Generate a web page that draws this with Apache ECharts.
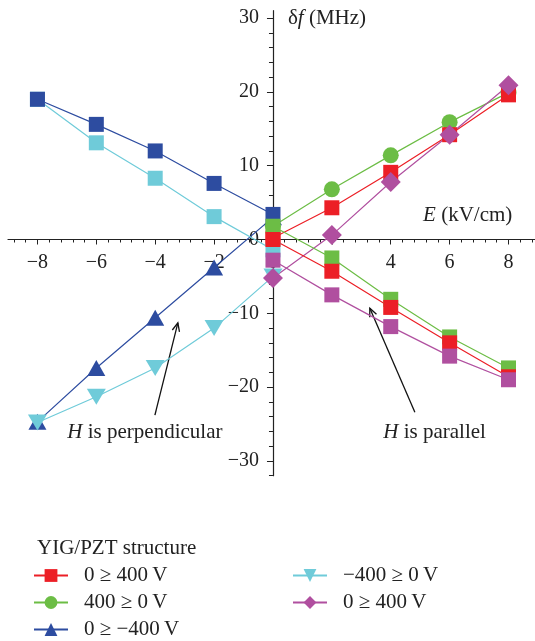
<!DOCTYPE html>
<html>
<head>
<meta charset="utf-8">
<script src="https://cdn.jsdelivr.net/npm/echarts@6/dist/echarts.min.js"></script>
<style>
  html, body { margin: 0; padding: 0; background: #fff; }
  #chart { width: 535px; height: 641px; }
</style>
</head>
<body>
<div id="chart"></div>
<script>
// field E in kV/cm
const ePos = [0, 2, 4, 6, 8];
const eNeg = [-8, -6, -4, -2, 0];

// H perpendicular (legend series), delta f in MHz
const redUp = [0.2, 4.3, 9.1, 14.2, 19.6];      // 0 >= 400 V
const greenUp = [1.8, 6.8, 11.4, 15.9, 19.9];   // 400 >= 0 V
const blueDown = [-24.7, -17.4, -10.6, -3.8, 3.0]; // 0 >= -400 V
const cyanDown = [-24.8, -21.3, -17.4, -12.0, -5.0]; // -400 >= 0 V
const magentaUp = [-5.2, 0.6, 7.8, 14.2, 20.9]; // 0 >= 400 V

// H parallel (square markers)
const redPar = [0.0, -4.3, -9.2, -14.0, -18.6];
const greenPar = [1.8, -2.5, -8.1, -13.2, -17.4];
const magentaPar = [-2.8, -7.5, -11.8, -15.8, -19.0];
const bluePar = [19.0, 15.6, 12.0, 7.6, 3.4];
const cyanPar = [19.0, 13.1, 8.3, 3.1, -1.4];

const legendLabels = {
  r: "0 \u2265 400\u2009V",
  g: "400 \u2265 0\u2009V",
  b: "0 \u2265 \u2212400\u2009V",
  c: "\u2212400 \u2265 0\u2009V",
  m: "0 \u2265 400\u2009V",
};

const xMin = -9, xMax = 8.9, yMin = -32, yMax = 31;
const xMajor = [-8, -6, -4, -2, 0, 2, 4, 6, 8];
const yMajor = [-30, -20, -10, 0, 10, 20, 30];
const xMinor = [];
for (let i = -22; i <= 22; i++) xMinor.push(+(i * 0.4).toFixed(1));
const yMinor = [];
for (let i = -16; i <= 15; i++) yMinor.push(i * 2);

const colors = {
  r: "#ec1f26",
  g: "#6cbd45",
  b: "#2d4ca0",
  c: "#6fcbd9",
  m: "#b04f9f",
};

const FONT = "Liberation Serif";
const INK = "#222";
const fmt = (v) => (v < 0 ? "\u2212" + Math.abs(v) : String(v));
const pairs = (xs, ys) => xs.map((x, i) => [x, ys[i]]);

function series(name, xs, ys, color, symbol, size, rotate) {
  return {
    name,
    type: "line",
    data: pairs(xs, ys),
    symbol,
    symbolSize: size,
    symbolRotate: rotate || 0,
    showAllSymbol: true,
    color,
    lineStyle: { width: 1.2, color },
    itemStyle: { color },
    emphasis: { disabled: true },
  };
}

function legend(names, left) {
  return {
    data: names,
    orient: "vertical",
    left,
    top: 565,
    padding: 0,
    itemWidth: 34,
    itemHeight: 16,
    itemGap: 6,
    formatter: (n) => legendLabels[n],
    textStyle: { fontFamily: FONT, fontSize: 21, color: INK, lineHeight: 20, padding: [0, 0, 0, 11] },
    selectedMode: false,
  };
}

const chart = echarts.init(document.getElementById("chart"));

chart.setOption({
  animation: false,
  grid: { left: 8, right: 0, top: 10.7, bottom: 165.3, containLabel: false, outerBoundsMode: "none" },
  xAxis: [
    {
      type: "value",
      min: xMin,
      max: xMax,
      position: "bottom",
      axisLine: { onZero: false, lineStyle: { color: INK, width: 1.2 } },
      axisTick: { customValues: xMajor, length: 5, lineStyle: { color: INK } },
      axisLabel: { customValues: xMajor, formatter: fmt, margin: 13, fontFamily: FONT, fontSize: 20, color: INK },
      splitLine: { show: false },
    },
    {
      type: "value",
      min: xMin,
      max: xMax,
      position: "top",
      axisLine: { show: false, onZero: false },
      axisTick: { customValues: xMinor, length: 3, inside: true, lineStyle: { color: INK } },
      axisLabel: { show: false },
      splitLine: { show: false },
    },
  ],
  yAxis: [
    {
      type: "value",
      min: yMin,
      max: yMax,
      position: "left",
      axisLine: { onZero: false, lineStyle: { color: INK, width: 1.2 } },
      axisTick: { customValues: yMajor, length: 6, lineStyle: { color: INK } },
      axisLabel: { customValues: yMajor, formatter: fmt, margin: 14, fontFamily: FONT, fontSize: 20, color: INK },
      splitLine: { show: false },
    },
    {
      type: "value",
      min: yMin,
      max: yMax,
      position: "right",
      axisLine: { show: false, onZero: false },
      axisTick: { customValues: yMinor, length: 4, inside: true, lineStyle: { color: INK } },
      axisLabel: { show: false },
      splitLine: { show: false },
    },
  ],
  title: {
    text: "YIG/PZT structure",
    left: 37,
    top: 538,
    padding: 0,
    textStyle: { fontFamily: FONT, fontSize: 21, fontWeight: "normal", color: INK },
  },
  legend: [legend(["r", "g", "b"], 33), legend(["c", "m"], 292)],
  series: [
    series("b", eNeg, blueDown, colors.b, "triangle", [18, 16]),
    series("c", eNeg, cyanDown, colors.c, "triangle", [19, 16], 180),
    series("g", ePos, greenUp, colors.g, "circle", 16),
    series("r", ePos, redUp, colors.r, "rect", 15),
    series("m", ePos, magentaUp, colors.m, "diamond", 20),
    series("cp", eNeg, cyanPar, colors.c, "rect", 15),
    series("bp", eNeg, bluePar, colors.b, "rect", 15),
    series("gp", ePos, greenPar, colors.g, "rect", 15),
    series("rp", ePos, redPar, colors.r, "rect", 15),
    series("mp", ePos, magentaPar, colors.m, "rect", 15),
  ],
});

// move the axes so they cross at the origin
const px = (p) => chart.convertToPixel({ gridIndex: 0 }, p);
const o = px([0, 0]);
const lo = px([xMin, yMin]);
const hi = px([xMax, yMax]);

// annotations: arrows and labels placed in data coordinates
function arrow(tail, tip) {
  const p0 = px(tail);
  const p1 = px(tip);
  const ang = Math.atan2(p0[1] - p1[1], p0[0] - p1[0]);
  const L = 9, a = 0.42;
  const w1 = [p1[0] + L * Math.cos(ang + a), p1[1] + L * Math.sin(ang + a)];
  const w2 = [p1[0] + L * Math.cos(ang - a), p1[1] + L * Math.sin(ang - a)];
  return [
    { type: "line", shape: { x1: p0[0], y1: p0[1], x2: p1[0], y2: p1[1] }, style: { stroke: "#111", lineWidth: 1.3 } },
    { type: "polyline", shape: { points: [w1, p1, w2] }, style: { stroke: "#111", lineWidth: 1.3, fill: null } },
  ];
}

function richText(at, dx, text, align) {
  const p = px(at);
  return {
    type: "text",
    x: p[0] + dx,
    y: p[1],
    style: {
      text,
      fontFamily: FONT,
      fontSize: 21,
      fill: INK,
      align,
      verticalAlign: "middle",
      rich: { i: { fontStyle: "italic", fontFamily: FONT, fontSize: 21 } },
    },
  };
}

chart.setOption({
  xAxis: [{ offset: -(lo[1] - o[1]) }, { offset: -(o[1] - hi[1]) }],
  yAxis: [{ offset: -(o[0] - lo[0]) }, { offset: -(hi[0] - o[0]) }],
  graphic: [
    ...arrow([-4.01, -23.8], [-3.23, -11.3]),
    ...arrow([4.82, -23.4], [3.29, -9.3]),
    richText([-4.35, -26.1], 0, "{i|H} is perpendicular", "center"),
    richText([5.49, -26.1], 0, "{i|H} is parallel", "center"),
    richText([0, 30], 15, "\u03b4{i|f} (MHz)", "left"),
    richText([5.1, 3.3], 0, "{i|E} (kV/cm)", "left"),
  ],
});
</script>
</body>
</html>
